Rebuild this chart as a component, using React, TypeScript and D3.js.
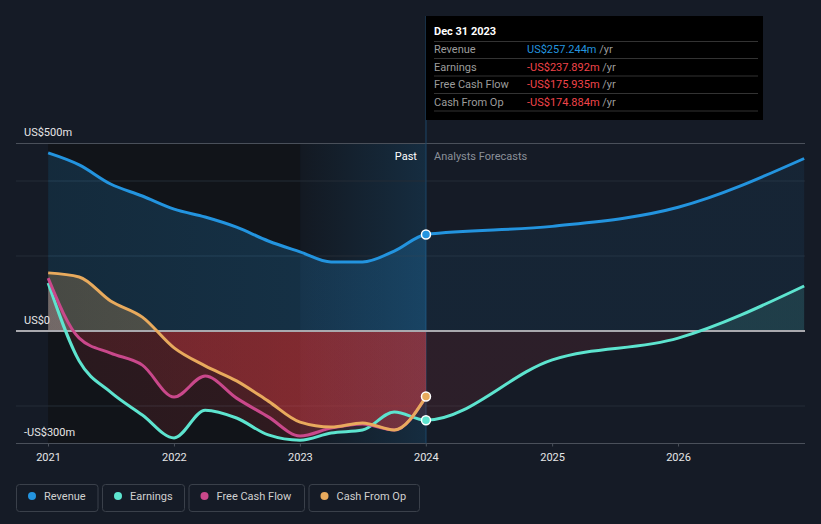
import * as d3 from "d3";

// ---- data (US$ millions) ----
const pastDates = [
  "2020-12-31", "2021-03-31", "2021-06-30", "2021-09-30",
  "2021-12-31", "2022-03-31", "2022-06-30", "2022-09-30",
  "2022-12-31", "2023-03-31", "2023-06-30", "2023-09-30", "2023-12-31",
];
const forecastDates = ["2024-12-31", "2025-12-31", "2026-12-31"];

const revenuePast = [475, 443, 392, 360, 325, 304, 277, 240, 211, 184, 184, 213, 257.244];
const revenueForecast = [279, 330, 460];
const earningsPast = [128, -80, -163, -224, -285, -211, -232, -277, -291, -272, -264, -216, -237.892];
const earningsForecast = [-77, -19, 120];
const fcfPast = [141, -19, -59, -91, -176, -120, -179, -229, -280, -259, -248, -264, -175.935];
const cfoPast = [155, 144, 80, 37, -45, -93, -133, -187, -243, -256, -245, -264, -174.884];

const yTicks = [500, 0, -300];
const yTickLabels = ["US$500m", "US$0", "-US$300m"];
const gridValues = [400, 200, -200];
const xTickYears = [2021, 2022, 2023, 2024, 2025, 2026];

const tooltipTitle = "Dec 31 2023";
const tooltipRows = [
  { label: "Revenue", value: "US$257.244m", color: "#2394df" },
  { label: "Earnings", value: "-US$237.892m", color: "#f0444a" },
  { label: "Free Cash Flow", value: "-US$175.935m", color: "#f0444a" },
  { label: "Cash From Op", value: "-US$174.884m", color: "#f0444a" },
];

const legendItems = [
  { label: "Revenue", color: "#2394df", width: 81.5 },
  { label: "Earnings", color: "#5de4cf", width: 82 },
  { label: "Free Cash Flow", color: "#c9488b", width: 115.5 },
  { label: "Cash From Op", color: "#e8aa5d", width: 110.5 },
];

const W = 821;
const H = 524;
const FONT = "Roboto, 'Noto Sans', sans-serif";

type Pt = { date: Date; value: number };

function toPoints(dates: string[], values: number[]): Pt[] {
  return dates.map((d, i) => ({ date: new Date(d + "T00:00:00"), value: values[i] }));
}

export default function App() {
  const x = d3
    .scaleTime()
    .domain([new Date("2021-01-01T00:00:00"), new Date("2027-01-01T00:00:00")])
    .range([48.5, 804.5]);
  const y = d3.scaleLinear().domain([-300, 500]).range([443.5, 143.5]);

  const left = 16;
  const right = 805;
  const top = y(500);
  const bottom = y(-300);
  const zero = y(0);
  const xStart = x(new Date(pastDates[0] + "T00:00:00"));
  const x2023 = x(new Date("2023-01-01T00:00:00"));
  const xNow = x(new Date(pastDates[pastDates.length - 1] + "T00:00:00"));

  const revenue = toPoints(pastDates.concat(forecastDates), revenuePast.concat(revenueForecast));
  const earnings = toPoints(pastDates.concat(forecastDates), earningsPast.concat(earningsForecast));
  const fcf = toPoints(pastDates, fcfPast);
  const cfo = toPoints(pastDates, cfoPast);

  const line = d3
    .line<Pt>()
    .x((d) => x(d.date))
    .y((d) => y(d.value))
    .curve(d3.curveMonotoneX);
  const area = d3
    .area<Pt>()
    .x((d) => x(d.date))
    .y0(zero)
    .y1((d) => y(d.value))
    .curve(d3.curveMonotoneX);

  // gradient stops along x: start of data, 2023, now, forecast
  const span = 804.5 - xStart;
  const o2023 = (x2023 - xStart) / span;
  const oNow = (xNow - xStart) / span;

  const grad = (id: string, color: string, past: number, fut: number) => (
    <linearGradient id={id} gradientUnits="userSpaceOnUse" x1={xStart} x2={804.5} y1={0} y2={0}>
      <stop offset={0} stopColor={color} stopOpacity={past * 0.8} />
      <stop offset={o2023} stopColor={color} stopOpacity={past} />
      <stop offset={oNow} stopColor={color} stopOpacity={past} />
      <stop offset={oNow} stopColor={color} stopOpacity={fut} />
      <stop offset={1} stopColor={color} stopOpacity={fut} />
    </linearGradient>
  );

  const RED = "#e63e45";
  const series = [
    { key: "earn", data: earnings, color: "#5de4cf", pos: 0.3, posF: 0.13, neg: 0.14, negF: 0.11 },
    { key: "fcf", data: fcf, color: "#c9488b", pos: 0.3, posF: 0.3, neg: 0.17, negF: 0.17 },
    { key: "cfo", data: cfo, color: "#e8aa5d", pos: 0.3, posF: 0.3, neg: 0.33, negF: 0.33 },
  ];

  let lx = 16;
  const legend = legendItems.map((it) => {
    const r = { ...it, x: lx };
    lx += it.width + 4.5;
    return r;
  });

  return (
    <svg
      width={W}
      height={H}
      style={{ position: "absolute", left: 0, top: 0, fontFamily: FONT }}
    >
      <defs>
        <clipPath id="above">
          <rect x={0} y={0} width={W} height={zero} />
        </clipPath>
        <clipPath id="below">
          <rect x={0} y={zero} width={W} height={H - zero} />
        </clipPath>
        {grad("g-rev", "#2394df", 0.22, 0.08)}
        {series.map((s) => grad(`g-pos-${s.key}`, s.color, s.pos, s.posF))}
        {series.map((s) => grad(`g-neg-${s.key}`, RED, s.neg, s.negF))}
        <linearGradient id="band" x1={0} x2={1} y1={0} y2={0}>
          <stop offset={0} stopColor="#2394df" stopOpacity={0} />
          <stop offset={1} stopColor="#2394df" stopOpacity={0.16} />
        </linearGradient>
      </defs>

      <rect x={0} y={0} width={W} height={H} fill="#151b26" />

      {/* past backgrounds */}
      <rect x={xStart} y={top} width={x2023 - xStart} height={bottom - top} fill="#111419" />
      <rect x={x2023} y={top} width={xNow - x2023} height={bottom - top} fill="#131922" />
      <rect x={x2023} y={top} width={xNow - x2023} height={bottom - top} fill="url(#band)" />

      {/* grid */}
      {gridValues.map((v) => (
        <line key={v} x1={left} x2={right} y1={y(v)} y2={y(v)} stroke="#252c37" strokeWidth={1} />
      ))}
      <line x1={left} x2={right} y1={top} y2={top} stroke="#4a505a" strokeWidth={1} />
      <line x1={left} x2={right} y1={bottom} y2={bottom} stroke="#4a505a" strokeWidth={1} />

      {/* now marker */}
      <line x1={xNow} x2={xNow} y1={16} y2={bottom} stroke="#1d4668" strokeWidth={1} />

      {/* areas */}
      <path d={area(revenue) ?? ""} fill="url(#g-rev)" />
      {series.map((s) => (
        <g key={s.key}>
          <path d={area(s.data) ?? ""} fill={`url(#g-pos-${s.key})`} clipPath="url(#above)" />
          <path d={area(s.data) ?? ""} fill={`url(#g-neg-${s.key})`} clipPath="url(#below)" />
        </g>
      ))}

      {/* zero line */}
      <line x1={left} x2={right} y1={zero} y2={zero} stroke="#a9a9ae" strokeWidth={2} />

      {/* lines */}
      <path d={line(revenue) ?? ""} fill="none" stroke="#2394df" strokeWidth={3} />
      {series.map((s) => (
        <path key={s.key} d={line(s.data) ?? ""} fill="none" stroke={s.color} strokeWidth={3} />
      ))}

      {/* end dots */}
      {[
        { v: revenuePast[revenuePast.length - 1], c: "#2394df" },
        { v: earningsPast[earningsPast.length - 1], c: "#5de4cf" },
        { v: cfoPast[cfoPast.length - 1], c: "#e8aa5d" },
      ].map((d, i) => (
        <circle key={i} cx={xNow} cy={y(d.v)} r={4.5} fill={d.c} stroke="#ffffff" strokeWidth={1.5} />
      ))}

      {/* y labels */}
      {yTicks.map((v, i) => (
        <text key={v} x={24} y={y(v) - 7.5} fill="#e6e6e6" fontSize={11}>
          {yTickLabels[i]}
        </text>
      ))}

      {/* x axis labels */}
      {xTickYears.map((yr) => {
        const px = x(new Date(`${yr}-01-01T00:00:00`));
        return (
          <g key={yr}>
            <line x1={px} x2={px} y1={bottom} y2={bottom + 3} stroke="#4a505a" />
            <text x={px} y={461} textAnchor="middle" fill="#e6e6e6" fontSize={11}>
              {yr}
            </text>
          </g>
        );
      })}

      {/* past / forecast labels */}
      <text x={xNow - 9} y={160} textAnchor="end" fill="#ffffff" fontSize={11}>
        Past
      </text>
      <text x={xNow + 8} y={160} fill="#8b9099" fontSize={11}>
        Analysts Forecasts
      </text>

      {/* tooltip */}
      <g>
        <rect x={xNow} y={16} width={337} height={104} fill="#000000" />
        <text x={434} y={35} fill="#ffffff" fontSize={11} fontWeight="bold">
          {tooltipTitle}
        </text>
        {[41.5, 58.5, 76, 93.5, 111].map((ly, i) => (
          <line key={i} x1={434} x2={758} y1={ly} y2={ly} stroke="#333333" strokeWidth={1} />
        ))}
        {tooltipRows.map((r, i) => {
          const by = 53 + i * 17.5;
          return (
            <g key={r.label}>
              <text x={434} y={by} fill="#9c9c9c" fontSize={11}>
                {r.label}
              </text>
              <text x={527} y={by} fontSize={11}>
                <tspan fill={r.color}>{r.value}</tspan>
                <tspan fill="#9c9c9c"> /yr</tspan>
              </text>
            </g>
          );
        })}
      </g>

      {/* legend */}
      {legend.map((it) => (
        <g key={it.label}>
          <rect x={it.x + 0.5} y={484.5} width={it.width} height={27} rx={3} fill="none" stroke="#3a404a" />
          <circle cx={it.x + 16} cy={496} r={4} fill={it.color} />
          <text x={it.x + 28} y={500} fill="#d0d0d0" fontSize={11}>
            {it.label}
          </text>
        </g>
      ))}
    </svg>
  );
}
